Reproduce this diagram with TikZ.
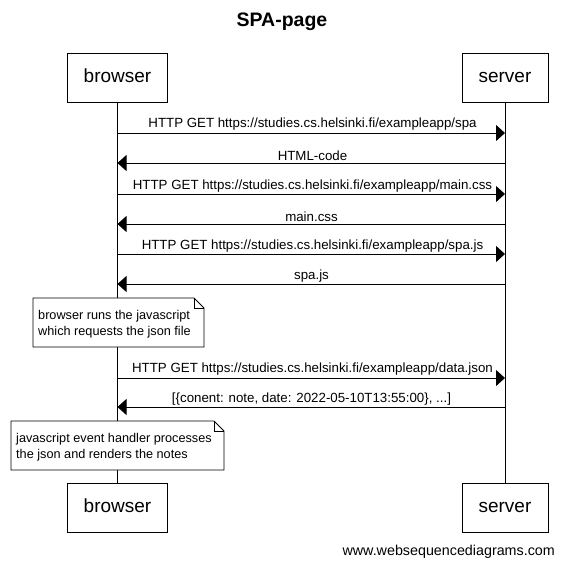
\documentclass[tikz,border=0pt]{standalone}
\usepackage{fontspec}
\setmainfont{Liberation Sans}
\usetikzlibrary{arrows.meta}
\begin{document}
\begin{tikzpicture}[x=1pt,y=-1pt,
  part/.style={draw,line width=0.9pt,minimum width=100pt,minimum height=49pt,inner sep=0pt,text height=14pt,text depth=4pt,font=\fontsize{19}{22}\selectfont},
  msg/.style={line width=0.9pt,-{Triangle[length=9pt,width=16pt]}},
  lbl/.style={font=\fontsize{13.3}{16}\selectfont,inner sep=0pt},
  notetext/.style={font=\fontsize{12.7}{16}\selectfont,align=left,inner sep=0pt,anchor=north west},
  life/.style={line width=0.9pt}]
\useasboundingbox (0,0) rectangle (563,566);
\node[font=\bfseries\fontsize{19.5}{22}\selectfont] (title) at (282,22) {SPA-page};
\node[part] (bt) at (117.5,77.5) {browser};
\node[part,minimum width=86pt] (st) at (505,77.5) {server};
\node[part] (bb) at (117.5,507.5) {browser};
\node[part,minimum width=86pt] (sb) at (505,507.5) {server};
\draw[life] (bt.south) -- (bb.north);
\draw[life] (st.south) -- (sb.north);
% messages
\coordinate (b1) at (117.5,133); \coordinate (s1) at (505,133);
\coordinate (b2) at (117.5,163); \coordinate (s2) at (505,163);
\coordinate (b3) at (117.5,194); \coordinate (s3) at (505,194);
\coordinate (b4) at (117.5,224); \coordinate (s4) at (505,224);
\coordinate (b5) at (117.5,254); \coordinate (s5) at (505,254);
\coordinate (b6) at (117.5,284); \coordinate (s6) at (505,284);
\coordinate (b7) at (117.5,378); \coordinate (s7) at (505,378);
\coordinate (b8) at (117.5,407); \coordinate (s8) at (505,407);
\draw[msg] (b1) -- (s1);
\draw[msg] (s2) -- (b2);
\draw[msg] (b3) -- (s3);
\draw[msg] (s4) -- (b4);
\draw[msg] (b5) -- (s5);
\draw[msg] (s6) -- (b6);
\draw[msg] (b7) -- (s7);
\draw[msg] (s8) -- (b8);
\node[lbl] (m1) at (312.5,124.5) {HTTP GET https://studies.cs.helsinki.fi/exampleapp/spa};
\node[lbl] (m2) at (312.5,155.5) {HTML-code};
\node[lbl] (m3) at (312.5,186.5) {HTTP GET https://studies.cs.helsinki.fi/exampleapp/main.css};
\node[lbl] (m4) at (311.5,216.5) {main.css};
\node[lbl] (m5) at (312.5,246.5) {HTTP GET https://studies.cs.helsinki.fi/exampleapp/spa.js};
\node[lbl] (m6) at (311.5,276.5) {spa.js};
\node[lbl] (m7) at (312.5,369.5) {HTTP GET https://studies.cs.helsinki.fi/exampleapp/data.json};
\node[lbl] (m8) at (311.5,399.5) {[\{conent: note, date: 2022-05-10T13:55:00\}, ...]};
% notes
\draw[line width=0.9pt,fill=white] (33,298) -- (194,298) -- (204,308) -- (204,347) -- (33,347) -- cycle;
\draw[line width=0.9pt] (194,298) -- (194,308) -- (204,308);
\node[notetext] (n1) at (38,310) {browser runs the javascript\\which requests the json file};
\draw[line width=0.9pt,fill=white] (11,421) -- (214,421) -- (224,431) -- (224,470) -- (11,470) -- cycle;
\draw[line width=0.9pt] (214,421) -- (214,431) -- (224,431);
\node[notetext] (n2) at (16,433) {javascript event handler processes\\the json and renders the notes};
\node[font=\fontsize{14.3}{16}\selectfont,anchor=east,inner sep=0pt] (foot) at (555,551.5) {www.websequencediagrams.com};
\end{tikzpicture}
\end{document}
